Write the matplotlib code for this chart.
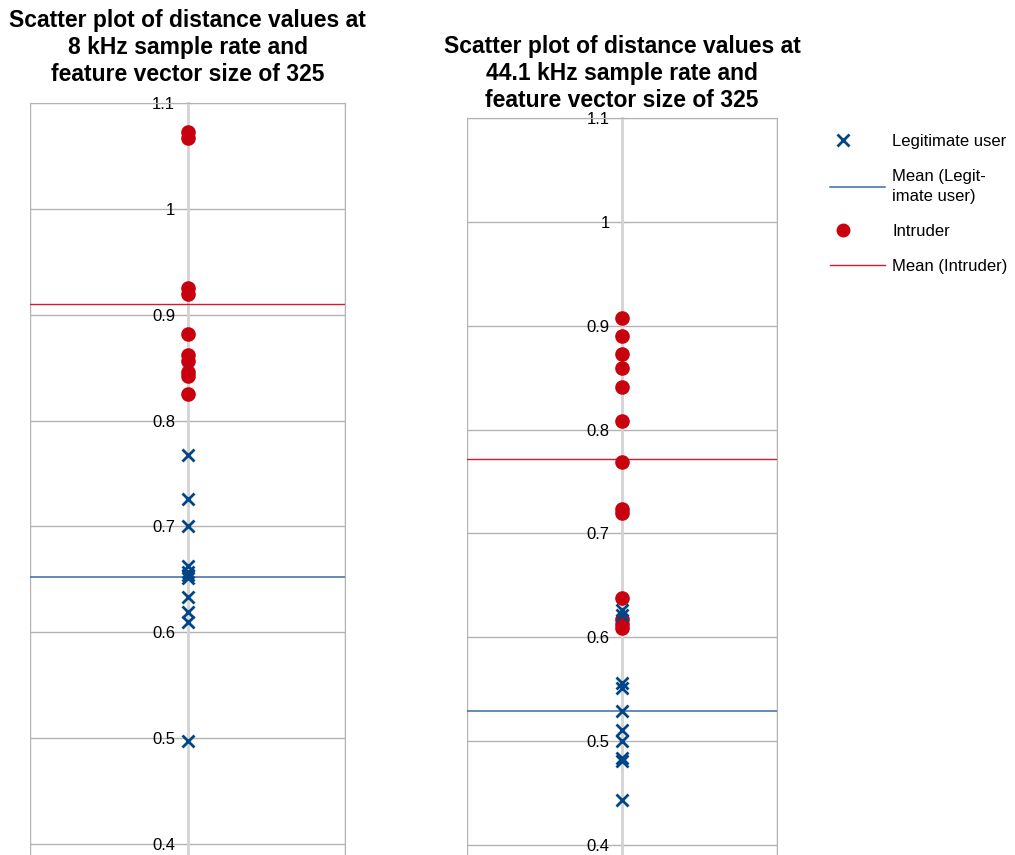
import matplotlib
matplotlib.use("Agg")
import matplotlib.pyplot as plt
from matplotlib.lines import Line2D
from matplotlib.legend_handler import HandlerLine2D

plt.rcParams['font.family'] = ['Liberation Sans', 'DejaVu Sans']

# valores
titulos = ["Scatter plot of distance values at\n8 kHz sample rate and\nfeature vector size of 325",
           "Scatter plot of distance values at\n44.1 kHz sample rate and\nfeature vector size of 325"]
legitimo_8k = [0.767, 0.7255, 0.700, 0.663, 0.657, 0.654, 0.651, 0.633, 0.619, 0.610, 0.497]
intruso_8k = [1.073, 1.067, 0.925, 0.920, 0.882, 0.862, 0.856, 0.846, 0.842, 0.825]
legitimo_44k = [0.626, 0.621, 0.556, 0.551, 0.529, 0.511, 0.500, 0.484, 0.481, 0.443]
intruso_44k = [0.9075, 0.8905, 0.873, 0.8595, 0.841, 0.808, 0.769, 0.724, 0.720,
               0.638, 0.618, 0.613, 0.609]
media_legitimo = [0.652, 0.529]
media_intruso = [0.910, 0.7715]
y_ticks = [0.4, 0.5, 0.6, 0.7, 0.8, 0.9, 1.0, 1.1]
y_etiquetas = ["0.4", "0.5", "0.6", "0.7", "0.8", "0.9", "1", "1.1"]

AZUL = '#004586'
AZUL_MEDIA = '#3a6aa8'
ROJO = '#c9000e'
ROJO_MEDIA = '#d9182a'
GRIS = '#b3b3b3'


class MarcadorIzq(HandlerLine2D):
    """Símbolo de la leyenda pegado a la izquierda (como en LibreOffice)."""
    def get_xdata(self, legend, xdescent, ydescent, width, height, fontsize):
        x0 = -xdescent
        # con numpoints=1 el marcador va en el punto medio de xdata
        return [x0, x0 + 18], [x0 + 9]


fig = plt.figure(figsize=(10.15, 8.55), dpi=100)
# posiciones de los ejes (en px de la figura original)
cajas = [(30, 345, 103, 0.3896), (467, 777, 118, 0.3904)]
pads = [16, 8]
datos = [(legitimo_8k, intruso_8k), (legitimo_44k, intruso_44k)]

for i, (x0, x1, ytop, ymin) in enumerate(cajas):
    ax = fig.add_axes([x0 / 1015, 0, (x1 - x0) / 1015, (855 - ytop) / 855])
    leg, intr = datos[i]

    # eje y en el centro (antes de configurar ticks, porque los reinicia)
    ax.spines['left'].set_position(('data', 1))
    ax.spines['left'].set_color('#d4d4d4')
    ax.spines['left'].set_linewidth(2)
    ax.spines['left'].set_zorder(1)
    for lado in ['top', 'right']:
        ax.spines[lado].set_color(GRIS)
    ax.spines['bottom'].set_visible(False)

    ax.set_xlim(0, 2)
    ax.set_ylim(ymin, 1.1)

    # media como línea horizontal
    ax.axhline(media_legitimo[i], color=AZUL_MEDIA, lw=1.1, zorder=2)
    ax.axhline(media_intruso[i], color=ROJO_MEDIA, lw=1.0, zorder=2)

    ax.plot([1] * len(intr), intr, 'o', color=ROJO, markersize=9.5, zorder=3)
    ax.plot([1] * len(leg), leg, 'x', color=AZUL, markersize=8.5, mew=2, zorder=4)

    ax.set_yticks(y_ticks)
    ax.set_yticklabels(y_etiquetas, fontsize=12)
    ax.set_xticks([0, 1, 2])
    ax.set_xticklabels([])
    ax.tick_params(axis='x', length=0)
    ax.tick_params(axis='y', direction='inout', length=6, color=GRIS, pad=6, labelsize=12)
    ax.grid(True, axis='y', color=GRIS, lw=1.0)
    ax.grid(True, axis='x', color=GRIS, lw=1.0)
    ax.set_axisbelow(True)

    ax.set_title(titulos[i], fontsize=16.5, fontweight='bold', pad=pads[i], linespacing=1.22)

manejadores = [
    Line2D([], [], marker='x', ls='none', color=AZUL, markersize=8, mew=2),
    Line2D([], [], color=AZUL_MEDIA, lw=1.1),
    Line2D([], [], marker='o', ls='none', color=ROJO, markersize=9),
    Line2D([], [], color=ROJO_MEDIA, lw=1.0),
]
etiquetas = ["Legitimate user", "Mean (Legit-\nimate user)", "Intruder", "Mean (Intruder)"]
leyenda = fig.legend(manejadores, etiquetas, loc='upper left', bbox_to_anchor=(815 / 1015, 1 - 119 / 855),
                     frameon=False, fontsize=12, handlelength=3.3, handletextpad=0.45,
                     labelspacing=1.2,
                     handler_map={manejadores[0]: MarcadorIzq(), manejadores[2]: MarcadorIzq()})
for t in leyenda.get_texts():
    t.set_linespacing(1.4)

fig.savefig('out.png', dpi=100)
